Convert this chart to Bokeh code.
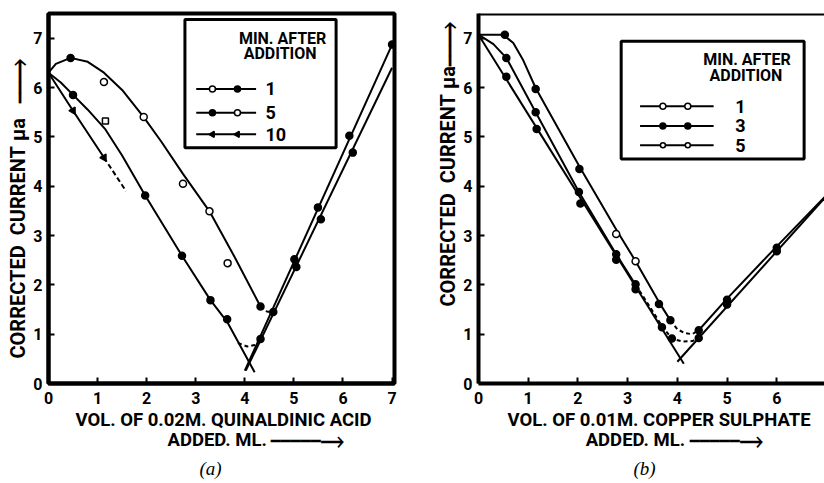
from bokeh.plotting import figure
from bokeh.layouts import row
from bokeh.models import Label, Span, FixedTicker, Range1d, Title
from bokeh.embed import file_html
from bokeh.resources import INLINE
import math

FONT = "Roboto"
TICKS = [0, 1, 2, 3, 4, 5, 6, 7]

# ---------------- panel (a): 0.02M quinaldinic acid ----------------
a_legend_labels = ["1", "5", "10"]
# curve for 1 min (upper curve)
a_c1_x = [0, 0.15, 0.45, 0.8, 1.13, 1.5, 1.94, 2.3, 2.74, 3.28, 3.8, 4.32]
a_c1_y = [6.3, 6.48, 6.6, 6.52, 6.3, 5.95, 5.4, 4.9, 4.25, 3.49, 2.55, 1.56]
a_c1_dash_x = [4.32, 4.45, 4.58]
a_c1_dash_y = [1.56, 1.46, 1.44]
# curve for 5 min (middle curve)
a_c5_x = [0, 0.25, 0.5, 0.8, 1.16, 1.5, 1.97, 2.72, 3.3, 3.64, 4.2]
a_c5_y = [6.3, 6.1, 5.85, 5.55, 5.15, 4.62, 3.81, 2.59, 1.69, 1.25, 0.23]
a_c5_dash_x = [3.86, 4.05, 4.2, 4.33]
a_c5_dash_y = [0.82, 0.75, 0.78, 0.9]
# curve for 10 min (short line)
a_c10_x = [0, 0.5, 1.13]
a_c10_y = [6.3, 5.53, 4.58]
a_c10_dash_x = [1.13, 1.58]
a_c10_dash_y = [4.58, 3.9]
# rising branches after the end point
a_rise1_x = [4.0, 7.0]
a_rise1_y = [0.26, 6.87]
a_rise2_x = [4.02, 7.0]
a_rise2_y = [0.26, 6.4]
# observed points
a_min1_open_x = [1.13, 1.94, 2.74, 3.28, 3.65]
a_min1_open_y = [6.11, 5.4, 4.05, 3.49, 2.44]
a_min1_dot_x = [0.45, 4.32, 4.58, 5.01, 5.49, 6.13, 7.0]
a_min1_dot_y = [6.6, 1.56, 1.45, 2.52, 3.57, 5.02, 6.87]
a_min5_dot_x = [0.5, 1.97, 2.72, 3.3, 3.64, 4.32, 5.05, 5.55, 6.2]
a_min5_dot_y = [5.85, 3.81, 2.59, 1.69, 1.3, 0.9, 2.36, 3.33, 4.68]
a_min5_sq_x = [1.16]
a_min5_sq_y = [5.32]
a_min10_x = [0.5, 1.13]
a_min10_y = [5.53, 4.58]

# ---------------- panel (b): 0.01M copper sulphate ----------------
b_legend_labels = ["1", "3", "5"]
b_top_x = [0, 0.5, 0.7, 0.9, 1.15, 2.03, 2.77, 3.16, 3.63, 3.86]
b_top_y = [7.07, 7.07, 6.9, 6.55, 5.99, 4.4, 3.12, 2.48, 1.65, 1.28]
b_top_dash_x = [3.86, 4.0, 4.15, 4.3, 4.43]
b_top_dash_y = [1.28, 1.1, 1.02, 1.0, 1.08]
b_mid_x = [0, 0.3, 0.56, 1.15, 2.02, 2.77, 3.16]
b_mid_y = [7.07, 6.88, 6.6, 5.5, 3.88, 2.62, 2.0]
b_mid_dash_x = [3.16, 3.45, 3.7, 3.89, 4.1, 4.3, 4.43]
b_mid_dash_y = [2.0, 1.55, 1.15, 0.91, 0.85, 0.86, 0.92]
b_low_x = [0, 4.13]
b_low_y = [7.07, 0.4]
b_rise1_x = [4.0, 7.0]
b_rise1_y = [0.44, 3.8]
b_rise2_x = [4.43, 5.0, 6.0, 7.0]
b_rise2_y = [1.08, 1.72, 2.78, 3.82]
b_min1_dot_x = [0.53, 1.15, 2.03, 3.63, 3.86, 4.43, 5.0, 6.0]
b_min1_dot_y = [7.07, 5.97, 4.35, 1.61, 1.28, 1.08, 1.7, 2.75]
b_min1_open_x = [2.77, 3.16]
b_min1_open_y = [3.03, 2.48]
b_min3_dot_x = [0.56, 1.15, 2.02, 2.77, 3.16, 3.89, 4.43, 5.0, 6.0]
b_min3_dot_y = [6.6, 5.5, 3.88, 2.62, 2.01, 0.91, 0.92, 1.6, 2.68]
b_min5_dot_x = [0.56, 1.17, 2.05, 2.77, 3.16, 3.69]
b_min5_dot_y = [6.22, 5.16, 3.65, 2.51, 1.91, 1.14]

NB = "\u00a0"
XARROW = "\u23af" * 5 + "\u27f6"
YARROW = "\u23af\u23af\u27f6"
a_xtitle = "VOL. OF 0.02M. QUINALDINIC ACID\n" + NB * 20 + "ADDED. ML. " + XARROW
b_xtitle = "VOL. OF 0.01M. COPPER SULPHATE\n" + NB * 17 + "ADDED. ML. " + XARROW
ytext = "CORRECTED" + NB * 2 + "CURRENT" + NB + "\u03bca"
a_ytitle = ytext + NB * 3 + YARROW
b_ytitle = ytext + YARROW


def make_fig(width, bl, br, bt, bb, xend):
    p = figure(width=width, height=482, x_range=Range1d(0, xend), y_range=Range1d(0, 7.5),
               output_backend="svg", toolbar_location=None,
               min_border_left=bl, min_border_right=br, min_border_top=bt, min_border_bottom=bb)
    p.grid.visible = False
    p.background_fill_color = "white"
    p.border_fill_color = "white"
    for ax in (p.xaxis[0], p.yaxis[0]):
        ax.ticker = FixedTicker(ticks=TICKS)
        ax.axis_line_width = 4
        ax.axis_line_color = "black"
        ax.major_tick_in = 6
        ax.major_tick_out = 0
        ax.major_tick_line_width = 2
        ax.minor_tick_line_color = None
        ax.major_label_text_font = FONT
        ax.major_label_text_font_style = "bold"
        ax.major_label_text_font_size = "16px"
        ax.major_label_text_color = "black"
    p.xaxis.major_label_standoff = 8
    p.yaxis.major_label_standoff = 6
    return p


def lw(p, xs, ys, dash="solid", width=2):
    p.line(xs, ys, line_color="black", line_width=width, line_dash=dash)


def dots(p, xs, ys, fill="black", marker="circle", size=7, angle=0.0):
    p.scatter(xs, ys, marker=marker, size=size, fill_color=fill, line_color="black",
              line_width=1.5, angle=angle)


def txt(p, x, y, s, size="15px", align="center"):
    p.add_layout(Label(x=x, y=y, text=s, text_font=FONT, text_font_style="bold",
                       text_font_size=size, text_align=align, text_baseline="middle",
                       text_color="black"))


def title(p, s, where, offset, size="18.5px", font=FONT, style="bold", standoff=0, lh=0.95):
    p.add_layout(Title(text=s, align="left", offset=offset, text_font=font,
                       text_font_style=style, text_font_size=size, text_color="black",
                       text_line_height=lh, standoff=standoff), where)


# ======================= panel (a) =======================
pa = make_fig(431, 48, 37, 12, 99, 7.05)
pa.outline_line_color = "black"
pa.outline_line_width = 4
pa.outline_line_alpha = 1

# legend box
pa.quad(left=[2.78], right=[5.86], bottom=[4.78], top=[7.38], fill_color="white",
        line_color="black", line_width=3)

lw(pa, a_c1_x, a_c1_y)
lw(pa, a_c1_dash_x, a_c1_dash_y, dash="4 3")
lw(pa, a_c5_x, a_c5_y)
lw(pa, a_c5_dash_x, a_c5_dash_y, dash="4 3")
lw(pa, a_c10_x, a_c10_y)
lw(pa, a_c10_dash_x, a_c10_dash_y, dash="5 3")
lw(pa, a_rise1_x, a_rise1_y)
lw(pa, a_rise2_x, a_rise2_y)
dots(pa, a_min1_open_x, a_min1_open_y, fill="white")
dots(pa, a_min1_dot_x, a_min1_dot_y)
dots(pa, a_min5_dot_x, a_min5_dot_y)
dots(pa, a_min5_sq_x, a_min5_sq_y, fill="white", marker="square", size=6)
dots(pa, a_min10_x, a_min10_y, marker="triangle", size=7, angle=math.pi / 2)

# legend content (a)
txt(pa, 4.77, 7.0, "MIN. AFTER", size="16px")
txt(pa, 4.72, 6.68, "ADDITION", size="16px")
a_rows = [5.97, 5.49, 5.05]
for i, lab in enumerate(a_legend_labels):
    y = a_rows[i]
    lw(pa, [3.01, 4.23], [y, y])
    txt(pa, 4.42, y, lab, size="18px", align="left")
dots(pa, [3.34], [a_rows[0]], fill="white", size=6)
dots(pa, [3.85], [a_rows[0]], size=6)
dots(pa, [3.34], [a_rows[1]], size=6)
dots(pa, [3.85], [a_rows[1]], fill="white", size=6)
dots(pa, [3.34, 3.85], [a_rows[2], a_rows[2]], marker="triangle", size=6, angle=math.pi / 2)

# axis titles (a)
title(pa, a_ytitle, "left", 25, size="20px", standoff=2, lh=1.0)
title(pa, a_xtitle, "below", 27)
title(pa, "(a)", "below", 151, size="19px", font="Liberation Serif", style="italic", standoff=8)

# ======================= panel (b) =======================
pb = make_fig(393, 47, 0, 13, 95, 6.96)
pb.outline_line_color = None
pb.add_layout(Span(location=7.5, dimension="width", line_color="black", line_width=4))

pb.quad(left=[2.87], right=[6.55], bottom=[4.55], top=[6.94], fill_color="white",
        line_color="black", line_width=3)

lw(pb, b_top_x, b_top_y)
lw(pb, b_top_dash_x, b_top_dash_y, dash="4 3")
lw(pb, b_mid_x, b_mid_y)
lw(pb, b_mid_dash_x, b_mid_dash_y, dash="4 3")
lw(pb, b_low_x, b_low_y)
lw(pb, b_rise1_x, b_rise1_y)
lw(pb, b_rise2_x, b_rise2_y)
dots(pb, b_min1_dot_x, b_min1_dot_y)
dots(pb, b_min1_open_x, b_min1_open_y, fill="white")
dots(pb, b_min3_dot_x, b_min3_dot_y)
dots(pb, b_min5_dot_x, b_min5_dot_y)

txt(pb, 5.4, 6.57, "MIN. AFTER", size="16px")
txt(pb, 5.38, 6.25, "ADDITION", size="16px")
b_rows = [5.62, 5.22, 4.83]
for i, lab in enumerate(b_legend_labels):
    y = b_rows[i]
    lw(pb, [3.25, 4.73], [y, y])
    txt(pb, 5.27, y, lab, size="18px")
dots(pb, [3.71, 4.21], [b_rows[0]] * 2, fill="white", size=6)
dots(pb, [3.71, 4.21], [b_rows[1]] * 2, size=6)
dots(pb, [3.71, 4.21], [b_rows[2]] * 2, fill="white", size=5)

title(pb, b_ytitle, "left", 77, size="20px", standoff=2, lh=1.0)
title(pb, b_xtitle, "below", 29)
title(pb, "(b)", "below", 155, size="19px", font="Liberation Serif", style="italic", standoff=8)

layout = row(pa, pb)
open("out.html", "w").write(file_html(layout, INLINE))
